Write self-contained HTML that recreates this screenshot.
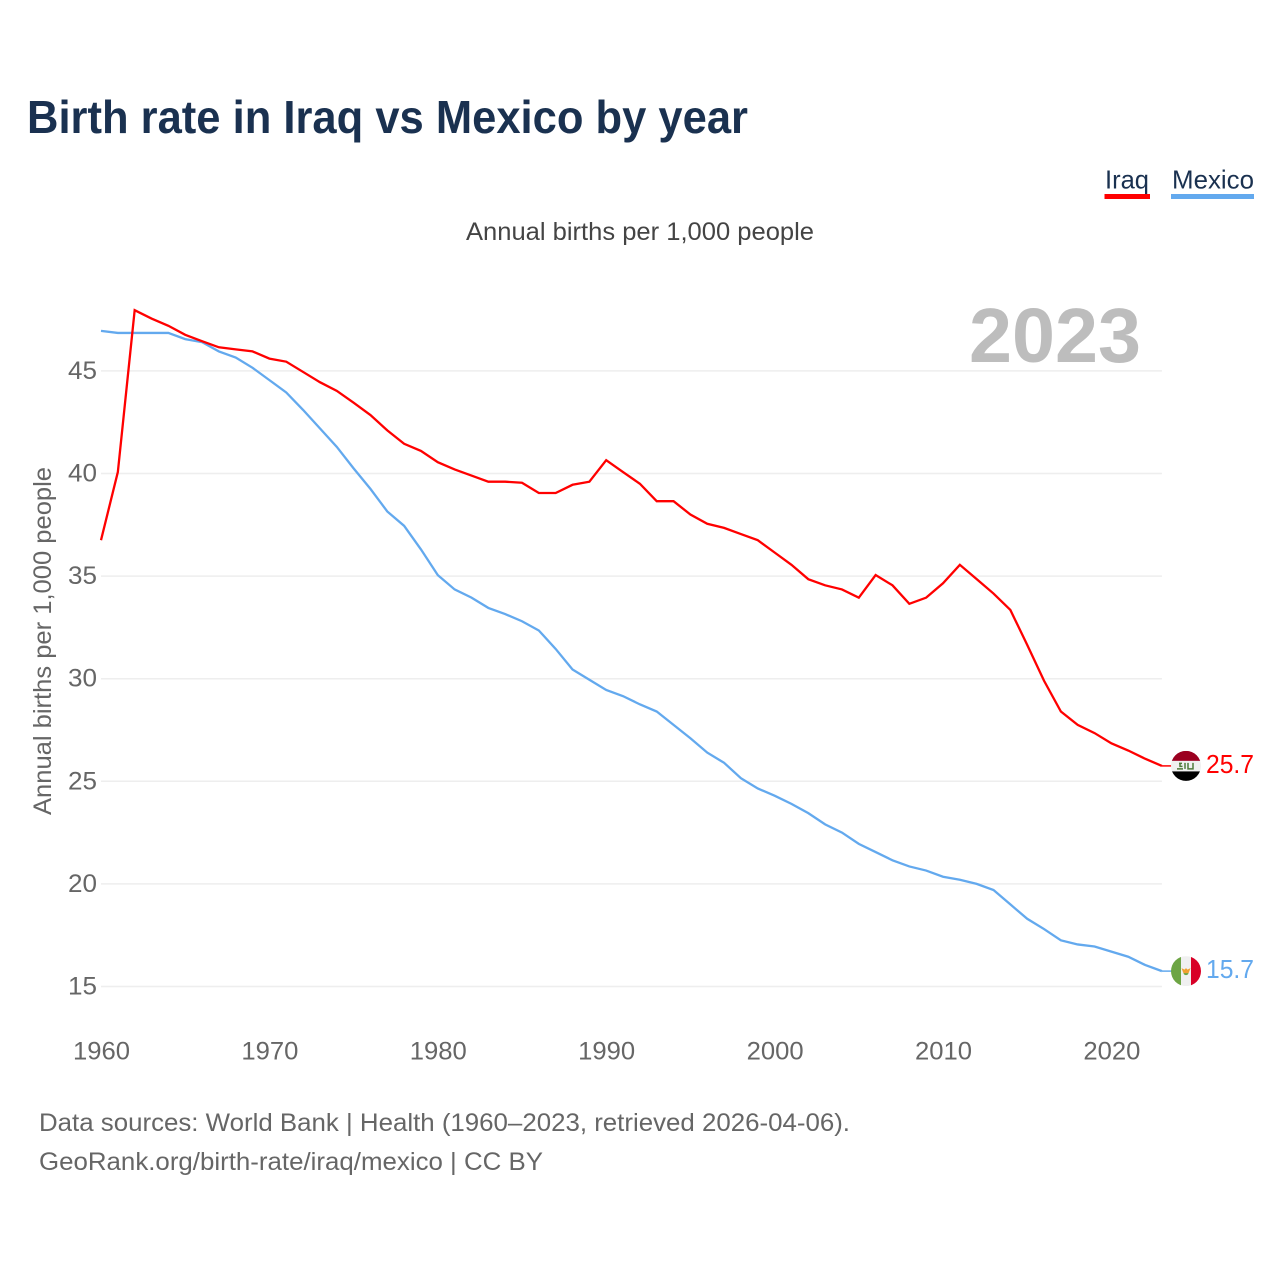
<!DOCTYPE html>
<html lang="en">
<head>
<meta charset="utf-8">
<title>Birth rate in Iraq vs Mexico by year</title>
<style>
html,body{margin:0;padding:0;background:#fff;}
svg{display:block;}
text{font-family:"Liberation Sans",sans-serif;}
</style>
</head>
<body>
<svg id="chart" width="1280" height="1280" viewBox="0 0 1280 1280" xmlns="http://www.w3.org/2000/svg">
  <defs>
    <clipPath id="flag-clip"><circle cx="0" cy="0" r="15"/></clipPath>
  </defs>
  <rect width="1280" height="1280" fill="#ffffff"/>
  <text x="27" y="133" font-size="46" font-weight="700" fill="#1a3150" textLength="721" lengthAdjust="spacingAndGlyphs">Birth rate in Iraq vs Mexico by year</text>

  <g>
    <text x="1105" y="188.5" font-size="26" fill="#1a3150" textLength="44" lengthAdjust="spacingAndGlyphs">Iraq</text>
    <rect x="1104.5" y="194" width="45.5" height="5" fill="#ff0000"/>
  </g>
  <g>
    <text x="1172" y="188.5" font-size="26" fill="#1a3150" textLength="82" lengthAdjust="spacingAndGlyphs">Mexico</text>
    <rect x="1171" y="194" width="83" height="5" fill="#63a9ee"/>
  </g>

  <text x="466" y="240" font-size="25" fill="#444444" textLength="348" lengthAdjust="spacingAndGlyphs">Annual births per 1,000 people</text>

  <g id="grid"></g>

  <text x="969" y="362" font-size="77" font-weight="700" fill="#bdbdbd" textLength="172" lengthAdjust="spacingAndGlyphs">2023</text>

  <text transform="translate(51,815) rotate(-90)" x="0" y="0" font-size="25" fill="#666666" textLength="348" lengthAdjust="spacingAndGlyphs">Annual births per 1,000 people</text>

  <g id="y-ticks"></g>
  <g id="x-ticks"></g>
  <g id="series"></g>

  <g id="flag-iraq">
    <g clip-path="url(#flag-clip)">
      <rect x="-15" y="-15" width="30" height="10" fill="#9b0020"/>
      <rect x="-15" y="-5" width="30" height="10.5" fill="#f0f0f0"/>
      <rect x="-15" y="5.5" width="30" height="10" fill="#000000"/>
      <path d="M-9,3 H-3 M-7,-2.5 H-4 M-6,-2.5 V0.5 H-3.5 M-1,-3 V3 M2,-3 V3 H5 M7,-3 V3 H5" fill="none" stroke="#4f7a3a" stroke-width="1.5"/>
    </g>
  </g>
  <g id="flag-mexico">
    <g clip-path="url(#flag-clip)">
      <rect x="-15" y="-15" width="10" height="30" fill="#6da544"/>
      <rect x="-5" y="-15" width="10" height="30" fill="#f0f0f0"/>
      <rect x="5" y="-15" width="10" height="30" fill="#d80027"/>
      <path d="M-4.5,-3 L-1.5,-1.5 L0,-3 L1.5,-1.5 L4.5,-3 L3,1 A3.2,3.2 0 0 1 -3,1 Z" fill="#f0a030"/>
      <path d="M-2.5,2 A2.5,2 0 0 0 2.5,2 Z" fill="#6da544"/>
    </g>
  </g>

  <text id="value-iraq" x="1206" font-size="26" fill="#ff0000" textLength="48" lengthAdjust="spacingAndGlyphs"></text>
  <text id="value-mexico" x="1206" font-size="26" fill="#63a9ee" textLength="48" lengthAdjust="spacingAndGlyphs"></text>

  <text x="39" y="1131" font-size="25" fill="#666666" textLength="811" lengthAdjust="spacingAndGlyphs">Data sources: World Bank | Health (1960–2023, retrieved 2026-04-06).</text>
  <a>
    <text x="39" y="1170" font-size="25" fill="#666666" textLength="504" lengthAdjust="spacingAndGlyphs">GeoRank.org/birth-rate/iraq/mexico | CC BY</text>
  </a>
</svg>
<script>
const startYear = 1960;
const iraqValues = [36.75,40.07,47.96,47.55,47.2,46.76,46.45,46.15,46.05,45.95,45.6,45.45,44.95,44.45,44.03,43.45,42.85,42.1,41.45,41.1,40.55,40.2,39.9,39.6,39.6,39.55,39.05,39.05,39.45,39.6,40.65,40.07,39.5,38.65,38.65,38.0,37.55,37.35,37.05,36.75,36.15,35.55,34.85,34.55,34.35,33.95,35.05,34.55,33.65,33.95,34.65,35.55,34.85,34.15,33.35,31.65,29.9,28.4,27.75,27.35,26.85,26.5,26.1,25.75];
const mexicoValues = [46.95,46.85,46.85,46.85,46.85,46.55,46.4,45.95,45.65,45.15,44.55,43.95,43.1,42.2,41.3,40.25,39.25,38.15,37.45,36.3,35.05,34.35,33.95,33.45,33.15,32.8,32.35,31.45,30.45,29.95,29.45,29.15,28.75,28.4,27.75,27.1,26.4,25.9,25.15,24.65,24.3,23.9,23.45,22.9,22.5,21.95,21.55,21.15,20.85,20.65,20.35,20.2,20.0,19.7,19.0,18.3,17.8,17.25,17.05,16.95,16.7,16.45,16.05,15.75];
const yTickValues = [15,20,25,30,35,40,45];
const xTickYears = [1960,1970,1980,1990,2000,2010,2020];
const iraqEndLabel = "25.7";
const mexicoEndLabel = "15.7";

const NS = "http://www.w3.org/2000/svg";
function xScale(year){ return 101 + (year - 1960) * 16.84; }
function yScale(v){ return 986.5 - (v - 15) * 20.52; }

const grid = document.getElementById("grid");
const yTicks = document.getElementById("y-ticks");
yTickValues.forEach(function(v){
  const l = document.createElementNS(NS, "line");
  
  
  l.setAttribute("x1", xScale(1960));
  l.setAttribute("x2", xScale(2023));
  l.setAttribute("y1", yScale(v));
  l.setAttribute("y2", yScale(v));
  l.setAttribute("stroke", "#eeeeee");
  l.setAttribute("stroke-width", "1.5");
  grid.appendChild(l);
  const t = document.createElementNS(NS, "text");
  
  
  t.setAttribute("x", 68);
  t.setAttribute("y", yScale(v) + 8);
  t.setAttribute("font-size", "25");
  t.setAttribute("fill", "#666666");
  t.setAttribute("textLength", "29");
  t.setAttribute("lengthAdjust", "spacingAndGlyphs");
  t.textContent = String(v);
  yTicks.appendChild(t);
});

const xTicks = document.getElementById("x-ticks");
xTickYears.forEach(function(y){
  const t = document.createElementNS(NS, "text");
  
  
  t.setAttribute("x", xScale(y) - 28);
  t.setAttribute("y", 1059.5);
  t.setAttribute("font-size", "25");
  t.setAttribute("fill", "#666666");
  t.setAttribute("textLength", "57");
  t.setAttribute("lengthAdjust", "spacingAndGlyphs");
  t.textContent = String(y);
  xTicks.appendChild(t);
});

const seriesGroup = document.getElementById("series");
function pathFor(values){
  return values.map(function(v, i){
    return (i ? "L" : "M") + xScale(startYear + i).toFixed(2) + "," + yScale(v).toFixed(2);
  }).join(" ");
}

const mexicoStub = document.createElementNS(NS, "line");


mexicoStub.setAttribute("x1", xScale(2023));
mexicoStub.setAttribute("x2", xScale(2023) + 10);
mexicoStub.setAttribute("y1", yScale(mexicoValues[mexicoValues.length - 1]));
mexicoStub.setAttribute("y2", yScale(mexicoValues[mexicoValues.length - 1]));
mexicoStub.setAttribute("stroke", "#63a9ee");
mexicoStub.setAttribute("stroke-width", "1.5");
seriesGroup.appendChild(mexicoStub);

const iraqStub = document.createElementNS(NS, "line");


iraqStub.setAttribute("x1", xScale(2023));
iraqStub.setAttribute("x2", xScale(2023) + 10);
iraqStub.setAttribute("y1", yScale(iraqValues[iraqValues.length - 1]));
iraqStub.setAttribute("y2", yScale(iraqValues[iraqValues.length - 1]));
iraqStub.setAttribute("stroke", "#ff0000");
iraqStub.setAttribute("stroke-width", "1.5");
seriesGroup.appendChild(iraqStub);

const mexicoLine = document.createElementNS(NS, "path");


mexicoLine.setAttribute("d", pathFor(mexicoValues));
mexicoLine.setAttribute("fill", "none");
mexicoLine.setAttribute("stroke", "#63a9ee");
mexicoLine.setAttribute("stroke-width", "2.3");
mexicoLine.setAttribute("stroke-linejoin", "miter");
seriesGroup.appendChild(mexicoLine);

const iraqLine = document.createElementNS(NS, "path");


iraqLine.setAttribute("d", pathFor(iraqValues));
iraqLine.setAttribute("fill", "none");
iraqLine.setAttribute("stroke", "#ff0000");
iraqLine.setAttribute("stroke-width", "2.3");
iraqLine.setAttribute("stroke-linejoin", "miter");
seriesGroup.appendChild(iraqLine);

const iraqEndY = yScale(iraqValues[iraqValues.length - 1]);
const mexicoEndY = yScale(mexicoValues[mexicoValues.length - 1]);
document.getElementById("flag-iraq").setAttribute("transform", "translate(1186," + iraqEndY + ")");
document.getElementById("flag-mexico").setAttribute("transform", "translate(1186," + mexicoEndY + ")");
const iraqValueText = document.getElementById("value-iraq");
iraqValueText.setAttribute("y", iraqEndY + 7);
iraqValueText.textContent = iraqEndLabel;
const mexicoValueText = document.getElementById("value-mexico");
mexicoValueText.setAttribute("y", mexicoEndY + 7);
mexicoValueText.textContent = mexicoEndLabel;
</script>
</body>
</html>
